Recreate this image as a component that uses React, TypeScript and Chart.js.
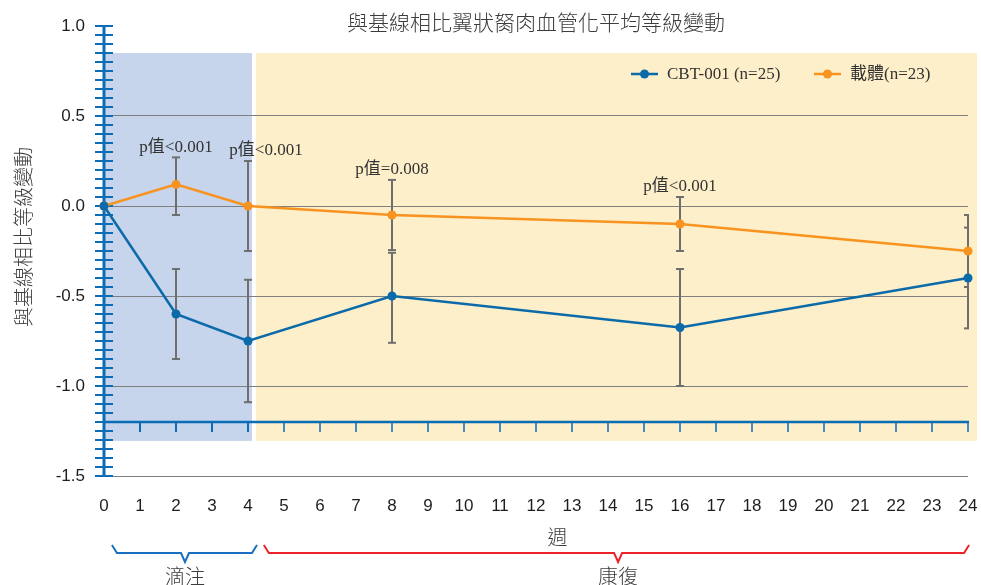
import React, { useEffect, useRef } from "react";
import { Chart, registerables } from "chart.js";

Chart.register(...registerables);

// ---- data ----
const weeks = [0, 2, 4, 8, 16, 24];
const cbtMean = [0, -0.6, -0.75, -0.5, -0.675, -0.4];
const cbtLow = [null, -0.85, -1.09, -0.76, -1.0, -0.68];
const cbtHigh = [null, -0.35, -0.41, -0.26, -0.35, -0.12];
const vehMean = [0, 0.12, 0, -0.05, -0.1, -0.25];
const vehLow = [null, -0.05, -0.25, -0.245, -0.25, -0.45];
const vehHigh = [null, 0.27, 0.25, 0.145, 0.05, -0.05];
const pLabels = ["", "p值<0.001", "p值<0.001", "p值=0.008", "p值<0.001", ""];
const seriesNames = ["CBT-001 (n=25)", "載體(n=23)"];
const titleText = "與基線相比翼狀胬肉血管化平均等級變動";
const yTitleText = "與基線相比等級變動";
const xTitleText = "週";
const phaseLabels = ["滴注", "康復"];

const AXIS_BLUE = "#0a6db6";
const CBT_COLOR = "#0b6aa9";
const VEH_COLOR = "#f7931e";
const ERR_COLOR = "#6f6f6f";
const TEXT_COLOR = "#3c3c3c";
const CJK = "'Noto Sans CJK TC', sans-serif";
const SERIF = "'Liberation Serif', 'Noto Sans CJK TC', serif";
const TICK_FONT = "'Liberation Sans', Arial, sans-serif";

function seg(ctx: CanvasRenderingContext2D, x1: number, y1: number, x2: number, y2: number) {
  ctx.beginPath();
  ctx.moveTo(x1, y1);
  ctx.lineTo(x2, y2);
  ctx.stroke();
}

const decorPlugin = {
  id: "decor",
  beforeDraw(chart: any) {
    const { ctx } = chart;
    const x = chart.scales.x;
    const y = chart.scales.y;
    const top = y.getPixelForValue(0.85);
    const bot = y.getPixelForValue(-1.305);
    ctx.save();
    ctx.fillStyle = "#c6d4ec";
    const b0 = x.getPixelForValue(0);
    const b1 = x.getPixelForValue(4.11);
    ctx.fillRect(b0, top, b1 - b0, bot - top);
    ctx.fillStyle = "#fcefc9";
    const y0 = x.getPixelForValue(4.22);
    const y1 = x.getPixelForValue(24.25);
    ctx.fillRect(y0, top, y1 - y0, bot - top);
    ctx.restore();
  },
  beforeDatasetsDraw(chart: any) {
    const { ctx, chartArea } = chart;
    const x = chart.scales.x;
    const y = chart.scales.y;
    ctx.save();
    // vertical blue axis with minor ticks
    const ax = Math.round(x.getPixelForValue(0));
    ctx.strokeStyle = AXIS_BLUE;
    ctx.lineWidth = 3;
    seg(ctx, ax, y.getPixelForValue(1.0) - 1, ax, y.getPixelForValue(-1.5) + 1);
    ctx.lineWidth = 2;
    for (let i = 0; i <= 50; i++) {
      const v = -1.5 + i * 0.05;
      const py = Math.round(y.getPixelForValue(v));
      seg(ctx, ax - 9, py, ax + 9, py);
    }
    // horizontal blue axis at -1.2
    const ay = Math.round(y.getPixelForValue(-1.2));
    ctx.lineWidth = 2.5;
    seg(ctx, ax, ay, x.getPixelForValue(24.03), ay);
    for (let i = 1; i <= 24; i++) {
      const px = Math.round(x.getPixelForValue(i));
      ctx.lineWidth = i <= 4 ? 2 : 1.5;
      seg(ctx, px, ay, px, ay + 10);
    }
    // error bars
    ctx.strokeStyle = ERR_COLOR;
    ctx.lineWidth = 2;
    ctx.beginPath();
    ctx.rect(0, 0, chartArea.right + 1, chart.height);
    ctx.clip();
    const sets = [
      [cbtLow, cbtHigh],
      [vehLow, vehHigh],
    ];
    for (const [lo, hi] of sets) {
      weeks.forEach((w, i) => {
        const l = lo[i];
        const h = hi[i];
        if (l === null || h === null) return;
        const px = Math.round(x.getPixelForValue(w));
        const pl = y.getPixelForValue(l);
        const ph = y.getPixelForValue(h);
        seg(ctx, px, pl, px, ph);
        seg(ctx, px - 4, pl, px + 4, pl);
        seg(ctx, px - 4, ph, px + 4, ph);
      });
    }
    ctx.restore();
  },
  afterDraw(chart: any) {
    const { ctx, chartArea } = chart;
    const x = chart.scales.x;
    const y = chart.scales.y;
    ctx.save();
    // title
    ctx.fillStyle = TEXT_COLOR;
    ctx.font = `300 21px ${CJK}`;
    ctx.textAlign = "center";
    ctx.textBaseline = "middle";
    ctx.fillText(titleText, (chartArea.left + chartArea.right) / 2, 22);
    // y title
    ctx.font = `300 20px ${CJK}`;
    ctx.save();
    ctx.translate(23, 237);
    ctx.rotate(-Math.PI / 2);
    ctx.fillText(yTitleText, 0, 0);
    ctx.restore();
    // x title
    ctx.fillText(xTitleText, x.getPixelForValue(12.6), 537);
    // p-value labels
    ctx.font = `17px ${SERIF}`;
    ctx.fillStyle = "#333333";
    weeks.forEach((w, i) => {
      const t = pLabels[i];
      if (!t) return;
      const dx = w === 4 ? 18 : 0;
      const h = vehHigh[i] as number;
      ctx.fillText(t, x.getPixelForValue(w) + dx, y.getPixelForValue(h) - 10);
    });
    // legend
    const legend = [
      { name: seriesNames[0], color: CBT_COLOR, x0: 631 },
      { name: seriesNames[1], color: VEH_COLOR, x0: 814 },
    ];
    const ly = 74;
    for (const item of legend) {
      ctx.strokeStyle = item.color;
      ctx.lineWidth = 2.5;
      seg(ctx, item.x0, ly, item.x0 + 27, ly);
      ctx.fillStyle = item.color;
      ctx.beginPath();
      ctx.arc(item.x0 + 13.5, ly, 4.5, 0, Math.PI * 2);
      ctx.fill();
      ctx.fillStyle = "#333333";
      ctx.textAlign = "left";
      ctx.fillText(item.name, item.x0 + 36, ly + 1);
    }
    // braces
    const drawBrace = (xa: number, xb: number, xm: number, color: string) => {
      const pa = x.getPixelForValue(xa);
      const pb = x.getPixelForValue(xb);
      const pm = x.getPixelForValue(xm);
      ctx.strokeStyle = color;
      ctx.lineWidth = 2;
      ctx.beginPath();
      ctx.moveTo(pa, 545);
      ctx.lineTo(pa + 5, 553);
      ctx.lineTo(pm - 4, 553);
      ctx.lineTo(pm, 562);
      ctx.lineTo(pm + 4, 553);
      ctx.lineTo(pb - 5, 553);
      ctx.lineTo(pb, 545);
      ctx.stroke();
    };
    drawBrace(0.22, 4.25, 2.25, "#1a6fc0");
    drawBrace(4.44, 24.03, 14.28, "#ee2229");
    ctx.fillStyle = TEXT_COLOR;
    ctx.font = `300 20px ${CJK}`;
    ctx.textAlign = "center";
    ctx.fillText(phaseLabels[0], x.getPixelForValue(2.25), 576);
    ctx.fillText(phaseLabels[1], x.getPixelForValue(14.28), 576);
    ctx.restore();
  },
};

export default function App() {
  const ref = useRef<HTMLCanvasElement | null>(null);
  useEffect(() => {
    if (!ref.current) return;
    const chart = new Chart(ref.current, {
      type: "line",
      data: {
        datasets: [
          {
            label: seriesNames[0],
            data: weeks.map((w, i) => ({ x: w, y: cbtMean[i] })),
            borderColor: CBT_COLOR,
            backgroundColor: CBT_COLOR,
            borderWidth: 2.5,
            pointRadius: 4.5,
            pointBorderWidth: 0,
            tension: 0,
            clip: false as any,
          },
          {
            label: seriesNames[1],
            data: weeks.map((w, i) => ({ x: w, y: vehMean[i] })),
            borderColor: VEH_COLOR,
            backgroundColor: VEH_COLOR,
            borderWidth: 2.5,
            pointRadius: 4.5,
            pointBorderWidth: 0,
            tension: 0,
            clip: false as any,
          },
        ],
      },
      options: {
        animation: false,
        responsive: true,
        maintainAspectRatio: false,
        devicePixelRatio: 1,
        layout: { padding: { top: 26, right: 13, left: 0, bottom: 0 } },
        plugins: {
          legend: { display: false },
          title: { display: false },
          tooltip: { enabled: false },
        },
        scales: {
          x: {
            type: "linear",
            min: 0,
            max: 24,
            grid: { display: false, drawTicks: false },
            border: { display: false },
            ticks: {
              stepSize: 1,
              autoSkip: false,
              maxRotation: 0,
              padding: 20,
              color: "#1e1e1e",
              font: { family: TICK_FONT, size: 17 },
            },
            afterFit: (s: any) => {
              s.height = 109;
              s.paddingLeft = 0;
              s.paddingRight = 0;
            },
          },
          y: {
            type: "linear",
            min: -1.5,
            max: 1.0,
            grid: {
              drawTicks: false,
              color: (c: any) =>
                c.tick && Math.abs(c.tick.value - 1) < 1e-6 ? "rgba(0,0,0,0)" : "#7f7f7f",
              lineWidth: 1,
            },
            border: { display: false },
            ticks: {
              stepSize: 0.5,
              padding: 19,
              color: "#1e1e1e",
              font: { family: TICK_FONT, size: 17 },
              callback: (v: any) => Number(v).toFixed(1),
            },
            afterFit: (s: any) => {
              s.width = 104;
              s.paddingTop = 0;
              s.paddingBottom = 0;
            },
          },
        },
      },
      plugins: [decorPlugin],
    });
    return () => chart.destroy();
  }, []);
  return (
    <div style={{ position: "absolute", left: 0, top: 0, width: 981, height: 585 }}>
      <canvas ref={ref} />
    </div>
  );
}
